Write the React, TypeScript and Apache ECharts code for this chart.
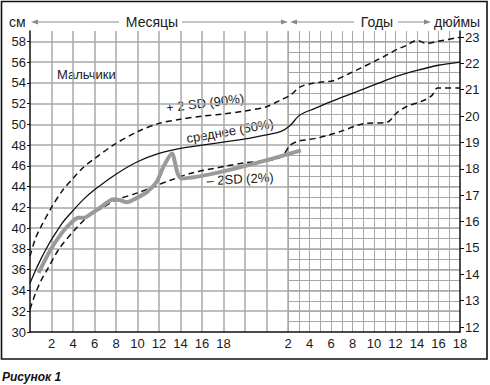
import React, { useEffect, useRef } from "react";
import * as echarts from "echarts";

// x axis units: 0..24 = months of age (1 unit per month), 24..40 = years 2..18 (1 unit per year)
const MONTH_TICKS = [2, 4, 6, 8, 10, 12, 14, 16, 18];
const YEAR_TICKS = [2, 4, 6, 8, 10, 12, 14, 16, 18];
const YEAR_OFFSET = 22; // unit = YEAR_OFFSET + years
const INCH_TICKS = [12, 13, 14, 15, 16, 17, 18, 19, 20, 21, 22, 23];
const CM_PER_INCH = 2.54;

// +2 SD (90%)
const upperX = [0, 0.5, 1, 2, 3, 4, 5, 6, 7.75, 10, 12, 14, 16, 18, 20, 22, 23.3, 24.2, 25.1, 26, 27.3, 28.2, 29.5, 30.7, 31.9, 33.2, 34.1, 35, 36, 36.9, 37.9, 40];
const upperCm = [37.3, 39.0, 40.1, 42.0, 43.6, 44.8, 45.9, 46.7, 48.0, 49.3, 50.1, 50.5, 50.8, 51.0, 51.3, 51.7, 52.35, 52.8, 53.6, 53.9, 54.1, 54.2, 54.8, 55.4, 56.0, 56.7, 57.2, 57.6, 58.1, 57.8, 58.0, 58.4];

// среднее (50%)
const medianX = [0, 0.5, 1, 1.5, 2, 3, 4, 5, 6, 8, 10, 12, 14, 16, 18, 20, 22, 23.3, 24.2, 25.1, 26.4, 28, 30, 32, 34, 36, 38, 40];
const medianCm = [34.7, 35.9, 37.0, 38.0, 38.9, 40.5, 41.7, 42.8, 43.7, 45.2, 46.4, 47.2, 47.7, 48.0, 48.3, 48.6, 49.0, 49.3, 49.9, 50.9, 51.5, 52.2, 53.0, 53.8, 54.6, 55.2, 55.7, 56.0];

// -2 SD (2%)
const lowerX = [0, 0.5, 1, 1.6, 2.7, 4.3, 5.5, 6.8, 8, 10, 11.5, 13, 15, 18.3, 20, 22, 23, 23.6, 24.2, 25, 25.6, 26.8, 27.9, 29.1, 30.4, 31.3, 33.2, 34.1, 35, 36.6, 37.4, 37.9, 40];
const lowerCm = [32.2, 33.7, 34.9, 36.0, 38.0, 40.0, 41.2, 42.0, 42.7, 43.4, 44.0, 44.6, 45.3, 46.0, 46.3, 46.5, 46.7, 47.1, 48.0, 48.4, 48.5, 48.7, 49.0, 49.4, 49.9, 50.1, 50.2, 51.1, 51.7, 52.3, 52.8, 53.5, 53.5];

// patient (boy)
const patientX = [0.8, 1.9, 3.0, 4.0, 4.5, 5.0, 5.7, 6.8, 7.75, 8.4, 9.0, 9.9, 10.9, 11.8, 12.4, 13.2, 14.1, 25.2];
const patientCm = [35.7, 37.9, 39.6, 40.7, 41.0, 41.0, 41.4, 42.2, 42.8, 42.7, 42.5, 42.9, 43.5, 44.5, 45.9, 47.2, 44.8, 47.5];

const pairs = (xs: number[], ys: number[]) => xs.map((x, i) => [x, ys[i]]);

const TXT = "#1a1a1a";
const GRID = "#a8a8a8";
const ARROW = "#8a8a8a";
const FONT = "Liberation Sans, Arial, sans-serif";

export default function App() {
  const ref = useRef<HTMLDivElement>(null);
  useEffect(() => {
    if (!ref.current) return;
    const chart = echarts.init(ref.current, null, { renderer: "svg" });
    const hy = 22;
    const arrowL = (tip: number) => ({
      type: "polygon",
      shape: { points: [[tip, hy], [tip + 7, hy - 2.5], [tip + 7, hy + 2.5]] },
      style: { fill: ARROW },
    });
    const arrowR = (tip: number) => ({
      type: "polygon",
      shape: { points: [[tip, hy], [tip - 7, hy - 2.5], [tip - 7, hy + 2.5]] },
      style: { fill: ARROW },
    });
    const hline = (x1: number, x2: number) => ({
      type: "line",
      shape: { x1, y1: hy, x2, y2: hy },
      style: { stroke: ARROW, lineWidth: 1 },
    });
    const txt = (x: number, y: number, text: string, extra: any = {}, rot = 0) => ({
      type: "text",
      x,
      y,
      rotation: rot,
      style: { text, fill: TXT, font: `13px ${FONT}`, verticalAlign: "middle", ...extra },
    });
    const deg = Math.PI / 180;

    const option: any = {
      animation: false,
      textStyle: { fontFamily: FONT },
      grid: [
        { left: 30, right: 30, top: 31, bottom: 53 },
        { left: 30, width: 258, top: 31, bottom: 53 },
        { left: 288, right: 30, top: 31, bottom: 53 },
      ],
      xAxis: [
        {
          gridIndex: 0,
          type: "value",
          min: 0,
          max: 40,
          axisLine: { onZero: false, lineStyle: { color: "#111", width: 1.5 } },
          axisTick: { show: false },
          splitLine: { show: false },
          axisLabel: {
            customValues: [...MONTH_TICKS, ...YEAR_TICKS.map((y) => y + YEAR_OFFSET)],
            formatter: (v: number) => String(v < 24 ? v : v - YEAR_OFFSET),
            color: TXT,
            fontSize: 13,
            margin: 5,
          },
        },
        {
          gridIndex: 1,
          type: "value",
          min: 0,
          max: 24,
          interval: 2,
          axisLine: { show: false },
          axisTick: { show: false },
          axisLabel: { show: false },
          splitLine: { show: true, showMinLine: false, lineStyle: { color: GRID, width: 1.5 } },
        },
        {
          gridIndex: 2,
          type: "value",
          min: 24,
          max: 40,
          interval: 1,
          axisLine: { show: false },
          axisTick: { show: false },
          axisLabel: { show: false },
          splitLine: { show: true, showMaxLine: false, lineStyle: { color: GRID, width: 1 } },
        },
      ],
      yAxis: [
        {
          gridIndex: 0,
          type: "value",
          min: 30,
          max: 59,
          interval: 2,
          axisLine: { show: true, lineStyle: { color: "#111", width: 1.5 } },
          axisTick: { show: true, length: 3, lineStyle: { color: "#111" } },
          axisLabel: {
            color: TXT,
            fontSize: 13,
            margin: 4,
            showMaxLabel: false,
            formatter: (v: number) => (v > 58 ? "" : String(v)),
          },
          splitLine: {
            show: true,
            showMinLine: false,
            showMaxLine: false,
            lineStyle: { color: GRID, width: 1.5 },
          },
        },
        {
          gridIndex: 0,
          type: "value",
          position: "right",
          min: 30,
          max: 59,
          axisLine: { show: true, lineStyle: { color: "#111", width: 1.5 } },
          axisTick: {
            show: true,
            length: 4,
            customValues: INCH_TICKS.map((i) => i * CM_PER_INCH),
            lineStyle: { color: "#111" },
          },
          axisLabel: {
            customValues: INCH_TICKS.map((i) => i * CM_PER_INCH),
            formatter: (v: number) => String(Math.round(v / CM_PER_INCH)),
            color: TXT,
            fontSize: 13,
            margin: 5,
          },
          splitLine: { show: false },
        },
        { gridIndex: 1, type: "value", min: 30, max: 59, show: false },
        {
          gridIndex: 2,
          type: "value",
          min: 30,
          max: 59,
          interval: 1,
          axisLine: { show: false },
          axisTick: { show: false },
          axisLabel: { show: false },
          splitLine: {
            show: true,
            showMinLine: false,
            showMaxLine: false,
            lineStyle: { color: GRID, width: 1 },
          },
        },
      ],
      series: [
        {
          name: "+2 SD (90%)",
          type: "line",
          xAxisIndex: 0,
          yAxisIndex: 0,
          data: pairs(upperX, upperCm),
          smooth: 0.3,
          symbol: "none",
          lineStyle: { color: "#111", width: 1.5, type: [6, 4] },
        },
        {
          name: "среднее (50%)",
          type: "line",
          xAxisIndex: 0,
          yAxisIndex: 0,
          data: pairs(medianX, medianCm),
          smooth: 0.3,
          symbol: "none",
          lineStyle: { color: "#111", width: 1.3 },
        },
        {
          name: "-2 SD (2%)",
          type: "line",
          xAxisIndex: 0,
          yAxisIndex: 0,
          data: pairs(lowerX, lowerCm),
          smooth: 0.3,
          symbol: "none",
          lineStyle: { color: "#111", width: 1.5, type: [6, 4] },
        },
        {
          name: "patient",
          type: "line",
          xAxisIndex: 0,
          yAxisIndex: 0,
          data: pairs(patientX, patientCm),
          smooth: 0.25,
          symbol: "none",
          lineStyle: { color: "#9a9a9a", width: 4 },
          z: 3,
        },
      ],
      graphic: [
        {
          type: "rect",
          shape: { x: 1.5, y: 1.5, width: 485.5, height: 357.5 },
          style: { fill: "none", stroke: "#111", lineWidth: 1.6 },
        },
        txt(9, hy, "см", { font: `14px ${FONT}` }),
        arrowL(31),
        hline(37, 119),
        txt(152, hy, "Месяцы", { font: `14px ${FONT}`, align: "center" }),
        hline(182, 282),
        arrowR(288),
        arrowL(290),
        hline(296, 354),
        txt(377, hy, "Годы", { font: `14px ${FONT}`, align: "center" }),
        hline(398, 425),
        arrowR(431),
        txt(434, hy, "дюймы", { font: `14px ${FONT}` }),
        txt(57, 74, "Мальчики"),
        txt(205, 103, "+ 2 SD (90%)", { align: "center" }, 7 * deg),
        txt(230, 131, "среднее (50%)", { align: "center" }, 10 * deg),
        txt(240, 179, "– 2SD (2%)", { align: "center" }, 3 * deg),
        {
          type: "text",
          x: 2,
          y: 377,
          style: {
            text: "Рисунок 1",
            fill: "#111",
            font: `italic bold 12px ${FONT}`,
            verticalAlign: "middle",
          },
        },
      ],
    };
    chart.setOption(option);
    return () => chart.dispose();
  }, []);
  return (
    <div
      ref={ref}
      style={{ position: "fixed", left: 0, top: 0, width: 490, height: 385, background: "#fff" }}
    />
  );
}
